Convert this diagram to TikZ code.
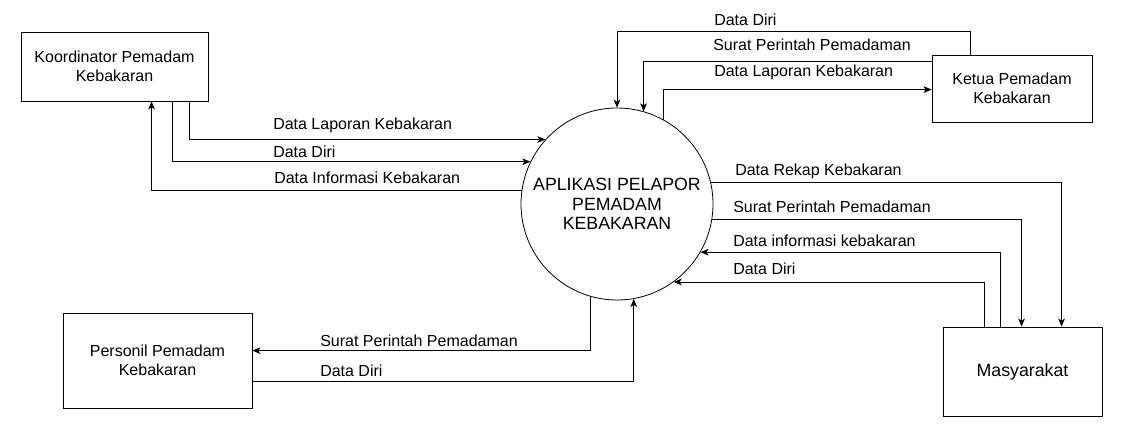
\documentclass[tikz,border=0pt]{standalone}
\usepackage{fontspec}
\setmainfont{Liberation Sans}
\usetikzlibrary{calc,arrows.meta}
\tikzset{
  box/.style={draw, line width=0.6pt, rectangle, align=center, inner sep=2pt, font=\fontsize{12}{14.5}\selectfont},
  proc/.style={draw, line width=0.6pt, circle, align=center, minimum size=144pt, inner sep=0pt, font=\fontsize{13.3}{14.8}\selectfont},
  lbl/.style={anchor=west, inner sep=0pt, font=\fontsize{12}{14}\selectfont},
  flow/.style={line width=0.7pt, -{Stealth[length=6pt,width=5pt,inset=1.5pt]}}
}
\begin{document}
\begin{tikzpicture}[x=0.75pt,y=-0.75pt]
\useasboundingbox (0,0) rectangle (1130,438);
% nodes
\node[box, minimum width=140.25pt, minimum height=51.75pt] (koor) at (114.5,66.5) {Koordinator Pemadam\\Kebakaran};
\node[box, minimum width=120pt, minimum height=50.25pt] (ketua) at (1012,88.5) {Ketua Pemadam\\Kebakaran};
\node[box, minimum width=141.75pt, minimum height=71.25pt] (pers) at (157.5,360.5) {Personil Pemadam\\Kebakaran};
\node[box, minimum width=119.25pt, minimum height=66.75pt, font=\fontsize{13.3}{15}\selectfont] (masy) at (1022.5,371.5) {Masyarakat};
\node[proc] (app) at (617,204) {APLIKASI PELAPOR\\PEMADAM\\KEBAKARAN};
% left flows
\draw[flow] ($(koor.south west)+(169,0)$) |- (app.138.2);
\draw[flow] ($(koor.south west)+(152,0)$) |- (app.154.1);
\draw[flow] (app.172.8) -| ($(koor.south west)+(131,0)$);
\node[lbl] (l1) at (273,125) {Data Laporan Kebakaran};
\node[lbl] (l2) at (273,152) {Data Diri};
\node[lbl] (l3) at (274,178) {Data Informasi Kebakaran};
% top flows
\draw[flow] ($(ketua.north west)+(39,0)$) -- ++(0,-23) -| (app.90);
\draw[flow] ($(ketua.north west)+(0,7)$) -| (app.74.3);
\draw[flow] (app.61.4) |- ($(ketua.north west)+(0,35)$);
\node[lbl] (l4) at (714,20) {Data Diri};
\node[lbl] (l5) at (713,45) {Surat Perintah Pemadaman};
\node[lbl] (l6) at (714,72) {Data Laporan Kebakaran};
% right flows
\draw[flow] (app.13.9) -| ($(masy.north west)+(119,0)$);
\draw[flow] (app.-9) -| ($(masy.north west)+(79,0)$);
\draw[flow] ($(masy.north west)+(58,0)$) |- (app.-30);
\draw[flow] ($(masy.north west)+(42,0)$) |- (app.-54.3);
\node[lbl] (l7) at (735,171) {Data Rekap Kebakaran};
\node[lbl] (l8) at (733,207) {Surat Perintah Pemadaman};
\node[lbl] (l9) at (733,241) {Data informasi kebakaran};
\node[lbl] (l10) at (733,269) {Data Diri};
% bottom flows
\draw[flow] (app.254.3) |- ($(pers.north east)+(0,38)$);
\draw[flow] ($(pers.north east)+(0,69)$) -| (app.-80.4);
\node[lbl] (l11) at (320,341) {Surat Perintah Pemadaman};
\node[lbl] (l12) at (320,371) {Data Diri};
\end{tikzpicture}
\end{document}
